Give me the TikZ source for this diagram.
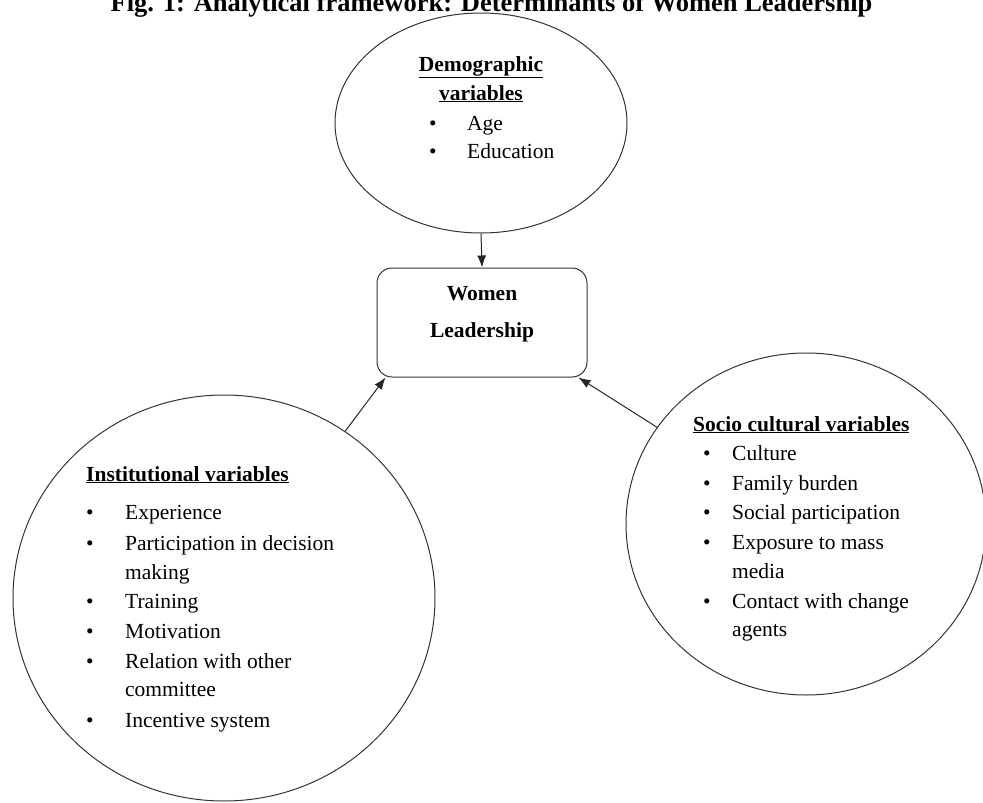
\documentclass[tikz,border=0pt]{standalone}
\usepackage{fontspec}
\setmainfont{Liberation Serif}
\usepackage{tikz}
\usetikzlibrary{shapes,arrows.meta}

\begin{document}
\begin{tikzpicture}[x=1pt,y=-1pt,
    blob/.style={ellipse,draw=black!80,line width=1pt,inner sep=0pt},
    txt/.style={anchor=base west,inner sep=0pt,font=\fontsize{21.5}{29}\selectfont},
    head/.style={txt,font=\fontsize{21.5}{29}\selectfont\bfseries},
    bul/.style={anchor=base,inner sep=0pt,font=\fontsize{21.5}{29}\selectfont},
    arr/.style={-{Latex[length=12pt,width=9pt]},line width=1pt,black!85}]
         \useasboundingbox (0,0) rectangle (983,803);
         \node[anchor=base,inner sep=0pt,font=\fontsize{26.5}{30}\selectfont\bfseries] (title) at (491.5,11) {Fig. 1: Analytical framework: Determinants of Women Leadership};
         % the four shapes
         \node[blob,minimum width=292pt,minimum height=220pt] (demog) at (481,123) {};
         \node[draw=black!80,line width=1pt,rounded corners=15pt,minimum width=210pt,minimum height=109pt] (lead) at (482,322.5) {};
         \node[blob,minimum width=422pt,minimum height=406pt] (inst) at (224,598) {};
         \node[blob,minimum width=360pt,minimum height=342pt] (socio) at (806,524) {};
         % demographic
         \node[head,anchor=base] (demoghead) at (481,71) {\underline{Demographic}};
         \node[head,anchor=base] (demoghead2) at (481,100) {\underline{variables}};
         \foreach \y/\txt [count=\i] in {130/Age,158/Education} {\node[bul] (demogb\i) at (433,\y) {\textbullet}; \node[txt] (demog\i) at (467,\y) {\txt}; }
         % women leadership
         \node[head,anchor=base] (leadtxt) at (482,300) {Women};
         \node[head,anchor=base] (leadtxt2) at (482,337) {Leadership};
         % institutional
         \node[head] (insthead) at (86,481) {\underline{Institutional variables}};
         \foreach \y/\txt [count=\i] in {519/Experience,550/Participation in decision,579/making,608/Training,638/Motivation,668/Relation with other,696/committee,727/Incentive system} {\node[txt] (inst\i) at (125,\y) {\txt}; }
         \foreach \y [count=\i] in {519,550,608,638,668,727} {\node[bul] (instb\i) at (90,\y) {\textbullet}; }
         % socio cultural
         \node[head] (sociohead) at (693,431) {\underline{Socio cultural variables}};
         \foreach \y/\txt [count=\i] in {460/Culture,490/Family burden,519/Social participation,549/Exposure to mass,578/media,608/Contact with change,636/agents} {\node[txt] (socio\i) at (732,\y) {\txt}; }
         \foreach \y [count=\i] in {460,490,519,549,608} {\node[bul] (sociob\i) at (707,\y) {\textbullet}; }
         % arrows
         \draw[arr] (demog.south) -- (lead.north);
         \draw[arr] (inst.54) -- ([xshift=9pt]lead.south west);
         \draw[arr] (socio.147) -- ([xshift=-9pt]lead.south east);
      \end{tikzpicture}
\end{document}
